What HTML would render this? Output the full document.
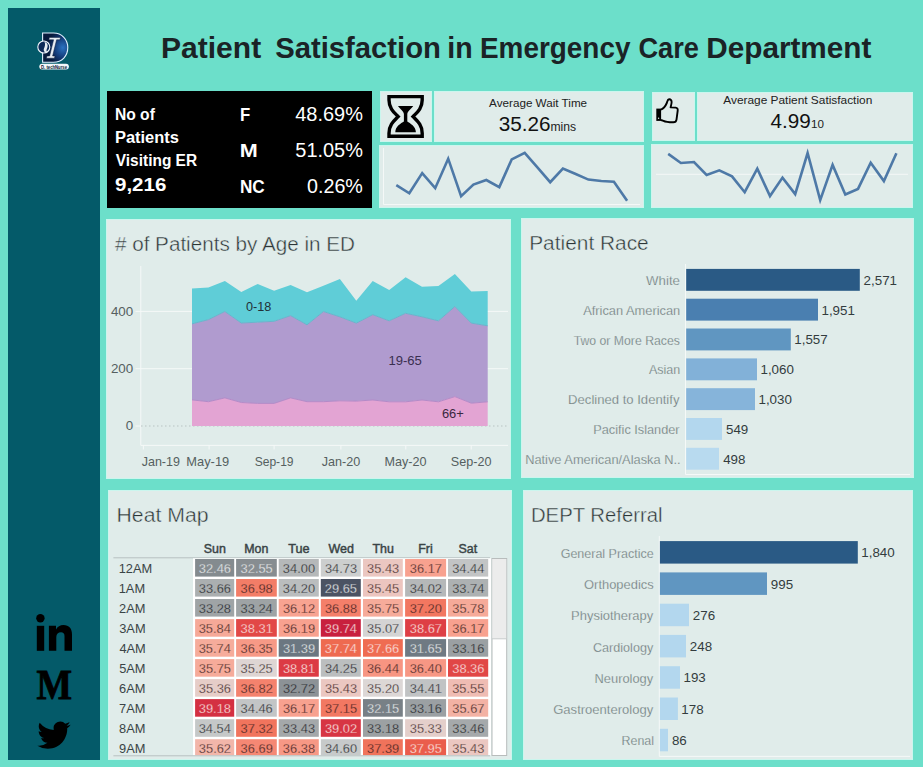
<!DOCTYPE html><html><head><meta charset="utf-8"><title>Patient Satisfaction in Emergency Care Department</title><style>
html,body{margin:0;padding:0;width:923px;height:767px;overflow:hidden;background:#6cdfca;font-family:"Liberation Sans",sans-serif;}
.pn{position:absolute;background:#e0ecea;box-shadow:inset 0 0 0 1px #cbf6ee;}
.sv{position:absolute;left:0;top:0;}
svg text{font-family:"Liberation Sans",sans-serif;}
</style></head><body>
<div style="position:absolute;left:8px;top:8px;width:92px;height:752px;background:#045a69"></div>
<div style="position:absolute;left:107px;top:91px;width:265px;height:117px;background:#000"></div>
<div class="pn" style="left:380px;top:91px;width:52px;height:51px;"></div>
<div class="pn" style="left:434px;top:91px;width:210px;height:51px;"></div>
<div class="pn" style="left:379px;top:145px;width:265px;height:63px;"></div>
<div class="pn" style="left:652px;top:92px;width:43px;height:49px;"></div>
<div class="pn" style="left:697px;top:92px;width:216px;height:49px;"></div>
<div class="pn" style="left:651px;top:144px;width:262px;height:64px;"></div>
<div class="pn" style="left:106px;top:219px;width:405px;height:260px;"></div>
<div class="pn" style="left:521px;top:218px;width:393px;height:260px;"></div>
<div class="pn" style="left:108px;top:490px;width:404px;height:270px;"></div>
<div class="pn" style="left:523px;top:490px;width:390px;height:270px;"></div>
<svg class="sv" width="923" height="767" viewBox="0 0 923 767">
<text x="160.99" y="57.7" font-size="29" fill="#1b2326" font-weight="bold" textLength="100.18" lengthAdjust="spacingAndGlyphs">Patient</text>
<text x="275.16" y="57.7" font-size="29" fill="#1b2326" font-weight="bold" textLength="165.76" lengthAdjust="spacingAndGlyphs">Satisfaction</text>
<text x="447.31" y="57.7" font-size="29" fill="#1b2326" font-weight="bold" textLength="25.36" lengthAdjust="spacingAndGlyphs">in</text>
<text x="480.03" y="57.7" font-size="29" fill="#1b2326" font-weight="bold" textLength="150.42" lengthAdjust="spacingAndGlyphs">Emergency</text>
<text x="638.38" y="57.7" font-size="29" fill="#1b2326" font-weight="bold" textLength="60.55" lengthAdjust="spacingAndGlyphs">Care</text>
<text x="706.31" y="57.7" font-size="29" fill="#1b2326" font-weight="bold" textLength="165.05" lengthAdjust="spacingAndGlyphs">Department</text>
<g>
<defs><radialGradient id="lg" cx="0.8" cy="0.5" r="0.6"><stop offset="0" stop-color="#2a72c0"/><stop offset="0.55" stop-color="#143c7a"/><stop offset="1" stop-color="#081a3c"/></radialGradient></defs>
<path d="M42.6 33 H53.5 C62 33 67.8 39.5 67.8 47.6 C67.8 56 62 62.3 53.5 62.3 H42.6 Z" fill="url(#lg)" stroke="#dff0ff" stroke-width="1.1"/>
<path d="M49.4 37.4 H60.6 L59.8 39.8 H56.6 L52.6 56 H55 L54.4 58.2 H46.4 L47 56 H49.6 L53.6 39.8 H48.8 Z" fill="#e8eef4" stroke="#0a1a3a" stroke-width="0.5"/>
<circle cx="43.8" cy="47" r="6" fill="#0d2a58" stroke="#eef4fa" stroke-width="1.1"/>
<path d="M44.5 42 C47.5 42.5 48.5 45.5 47 48.5 C46 50.5 46.5 52 48 52.5 C45 53 43 51 44 48.5 C45 46 45.5 44 44.5 42 Z" fill="#e6ecf2"/>
<rect x="39.3" y="63.7" width="29.6" height="5.8" rx="2.9" fill="#f4f8fb"/>
<text x="41" y="68.5" font-size="5" font-weight="bold" fill="#0a1a30" textLength="26" lengthAdjust="spacingAndGlyphs">D. techNurse</text>
</g>
<g fill="#000">
<circle cx="40.4" cy="618.3" r="4.2"/>
<rect x="36.8" y="625.8" width="7.4" height="25"/>
<path d="M48.9 625.8 H56 V629.5 C57.5 626.5 60 625 63.5 625 C69 625 72 628.5 72 634.5 V650.8 H64.5 V636 C64.5 633.5 63.2 632.3 61 632.3 C58.3 632.3 56.3 634 56.3 637 V650.8 H48.9 Z"/>
</g>
<text x="36.46" y="698.5" font-size="41.8" fill="#000" font-weight="bold" textLength="35.53" lengthAdjust="spacingAndGlyphs" stroke="#000" stroke-width="0.8" style="font-family:'Liberation Serif',serif">M</text>
<g transform="translate(37.4,718.4) scale(1.383,1.394)"><path fill="#000" d="M23.95 4.57a10 10 0 0 1-2.82.77 4.96 4.96 0 0 0 2.16-2.72c-.95.56-2 .96-3.12 1.19a4.92 4.92 0 0 0-8.38 4.48A13.94 13.94 0 0 1 1.64 3.16a4.82 4.82 0 0 0-.67 2.48c0 1.71.87 3.21 2.19 4.1a4.9 4.9 0 0 1-2.23-.61v.06c0 2.39 1.7 4.38 3.95 4.83a5 5 0 0 1-2.21.09 4.94 4.94 0 0 0 4.6 3.42A9.87 9.87 0 0 1 0 19.54a14 14 0 0 0 7.56 2.21c9.05 0 14-7.5 14-13.98 0-.21 0-.42-.02-.63A9.94 9.94 0 0 0 24 4.59z"/></g>
<text x="114.95" y="120" font-size="16" fill="#fff" font-weight="bold" textLength="39.91" lengthAdjust="spacingAndGlyphs">No of</text>
<text x="114.90" y="142.9" font-size="16" fill="#fff" font-weight="bold" textLength="64.08" lengthAdjust="spacingAndGlyphs">Patients</text>
<text x="115.79" y="165.8" font-size="16" fill="#fff" font-weight="bold" textLength="81.32" lengthAdjust="spacingAndGlyphs">Visiting ER</text>
<text x="114.99" y="191.4" font-size="19" fill="#fff" font-weight="bold" textLength="51.35" lengthAdjust="spacingAndGlyphs">9,216</text>
<text x="239.98" y="120.5" font-size="17.7" fill="#fff" font-weight="bold" textLength="10.23" lengthAdjust="spacingAndGlyphs">F</text>
<text x="239.66" y="157" font-size="17.7" fill="#fff" font-weight="bold" textLength="17.99" lengthAdjust="spacingAndGlyphs">M</text>
<text x="239.95" y="193.4" font-size="17.7" fill="#fff" font-weight="bold" textLength="24.82" lengthAdjust="spacingAndGlyphs">NC</text>
<text x="295.24" y="120.5" font-size="19.5" fill="#fff" font-weight="normal" textLength="67.67" lengthAdjust="spacingAndGlyphs">48.69%</text>
<text x="295.30" y="157" font-size="19.5" fill="#fff" font-weight="normal" textLength="67.61" lengthAdjust="spacingAndGlyphs">51.05%</text>
<text x="307.03" y="193.4" font-size="19.5" fill="#fff" font-weight="normal" textLength="55.87" lengthAdjust="spacingAndGlyphs">0.26%</text>
<g transform="translate(380,91)">
<path d="M9 5.6 H42.2 V9 C42.2 17.5 37 21.5 33 25.6 C37 29.7 42.2 33.7 42.2 42.2 V45.2 H9 V42.2 C9 33.7 14.2 29.7 18.2 25.6 C14.2 21.5 9 17.5 9 9 Z" fill="none" stroke="#000" stroke-width="3.4" stroke-linejoin="miter"/>
<path d="M18 15 H33.2 C31.5 18 27.4 20 27.3 23 V30.5 C30 32.2 35.9 35.5 35.9 41.2 H15.3 C15.3 35.5 21 32.2 23.9 30.5 V23 C23.8 20 19.7 18 18 15 Z" fill="#000"/>
</g>
<text x="489.08" y="106.9" font-size="10.8" fill="#222" font-weight="normal" textLength="98.03" lengthAdjust="spacingAndGlyphs">Average Wait Time</text>
<text x="498.71" y="130.7" font-size="19.9" fill="#111" font-weight="normal" textLength="51.80" lengthAdjust="spacingAndGlyphs">35.26</text>
<text x="550.39" y="130.7" font-size="13.6" fill="#222" font-weight="normal" textLength="25.65" lengthAdjust="spacingAndGlyphs">mins</text>
<g transform="translate(652,92)">
<rect x="4.3" y="16.6" width="4.8" height="12.3" fill="#000"/>
<circle cx="6.6" cy="26.3" r="0.7" fill="#e0ecea"/>
<path d="M9 17.6 C11.5 16.6 13.5 14 14.8 11 C15.5 9 15.6 7.4 17.1 7.3 C18.7 7.2 19.8 8.6 19.6 10.5 C19.4 12.5 18.8 14.2 18.6 15.4 L23.6 15.6 C25.3 15.7 25.9 17 25.7 18.6 L24.5 27.6 C24.2 29.5 22.6 30.4 21 30.3 C17 30.2 13.5 29.8 11.5 28.8 L9 28" fill="none" stroke="#000" stroke-width="1.9" stroke-linejoin="round"/>
</g>
<text x="723.28" y="104.2" font-size="11.2" fill="#222" font-weight="normal" textLength="148.99" lengthAdjust="spacingAndGlyphs">Average Patient Satisfaction</text>
<text x="770.53" y="127.8" font-size="20" fill="#111" font-weight="normal" textLength="40.25" lengthAdjust="spacingAndGlyphs">4.99</text>
<text x="811.11" y="127.8" font-size="10.8" fill="#222" font-weight="normal" textLength="12.94" lengthAdjust="spacingAndGlyphs">10</text>
<path d="M383.5 148 V204.5 H640" fill="none" stroke="#f4f8f7" stroke-width="1"/>
<line x1="656" y1="174.3" x2="908" y2="174.3" stroke="#f4f8f7" stroke-width="1"/>
<polyline points="396.3,185.1 409.3,193.3 422.2,173.1 435.2,188.2 448.2,158.7 461.1,196.2 473.4,184.6 486.3,180 499.3,187.1 511.7,159.4 524.7,152.9 537.4,167.4 550.2,182.2 562.9,168.5 575.7,174 588.4,179.6 601.3,181 613.9,181.7 627.1,200.8" fill="none" stroke="#4e79a7" stroke-width="2.6" stroke-linejoin="miter"/>
<polyline points="668.2,153.9 680.9,163 694,162 706.6,175 719.3,170.3 732,176.4 744.7,192.2 757.3,168.6 770,196.1 782.5,177.6 795.2,194.1 807.6,153 820.2,200.1 832.6,164.9 845.3,194.5 858,188.9 870.7,162.7 883.9,181.1 896.4,153.3" fill="none" stroke="#4e79a7" stroke-width="2.6" stroke-linejoin="miter"/>
<text x="114.91" y="251" font-size="19.4" fill="#2c3537" font-weight="normal" textLength="240.07" lengthAdjust="spacingAndGlyphs" stroke="#e0ecea" stroke-width="0.4"># of Patients by Age in ED</text>
<line x1="140.8" y1="266" x2="140.8" y2="445.4" stroke="#f5f9f8" stroke-width="1"/>
<line x1="140.8" y1="445.4" x2="508" y2="445.4" stroke="#f5f9f8" stroke-width="1"/>
<line x1="135.5" y1="311.4" x2="141" y2="311.4" stroke="#f5f9f8" stroke-width="1"/>
<line x1="135.5" y1="368.7" x2="141" y2="368.7" stroke="#f5f9f8" stroke-width="1"/>
<line x1="135.5" y1="426" x2="141" y2="426" stroke="#f5f9f8" stroke-width="1"/>
<line x1="141" y1="311.4" x2="508" y2="311.4" stroke="#f5f9f8" stroke-width="1"/>
<line x1="141" y1="368.7" x2="508" y2="368.7" stroke="#f5f9f8" stroke-width="1"/>
<line x1="141" y1="426" x2="508" y2="426" stroke="#b9c4c3" stroke-width="1" stroke-dasharray="1.5,2.5"/>
<line x1="143.4" y1="445.4" x2="143.4" y2="449.5" stroke="#f5f9f8" stroke-width="1"/>
<line x1="209.1" y1="445.4" x2="209.1" y2="449.5" stroke="#f5f9f8" stroke-width="1"/>
<line x1="274.1" y1="445.4" x2="274.1" y2="449.5" stroke="#f5f9f8" stroke-width="1"/>
<line x1="340.9" y1="445.4" x2="340.9" y2="449.5" stroke="#f5f9f8" stroke-width="1"/>
<line x1="405.8" y1="445.4" x2="405.8" y2="449.5" stroke="#f5f9f8" stroke-width="1"/>
<line x1="471.2" y1="445.4" x2="471.2" y2="449.5" stroke="#f5f9f8" stroke-width="1"/>
<text x="110.94" y="315.5" font-size="12.6" fill="#555f60" font-weight="normal" textLength="22.28" lengthAdjust="spacingAndGlyphs">400</text>
<text x="110.94" y="372.8" font-size="12.6" fill="#555f60" font-weight="normal" textLength="22.28" lengthAdjust="spacingAndGlyphs">200</text>
<text x="125.79" y="430.2" font-size="12.6" fill="#555f60" font-weight="normal" textLength="7.43" lengthAdjust="spacingAndGlyphs">0</text>
<text x="141.70" y="466" font-size="12.6" fill="#555f60" font-weight="normal" textLength="38.29" lengthAdjust="spacingAndGlyphs">Jan-19</text>
<text x="186.35" y="466" font-size="12.6" fill="#555f60" font-weight="normal" textLength="42.86" lengthAdjust="spacingAndGlyphs">May-19</text>
<text x="254.65" y="466" font-size="12.6" fill="#555f60" font-weight="normal" textLength="38.92" lengthAdjust="spacingAndGlyphs">Sep-19</text>
<text x="321.78" y="466" font-size="12.6" fill="#555f60" font-weight="normal" textLength="38.53" lengthAdjust="spacingAndGlyphs">Jan-20</text>
<text x="384.52" y="466" font-size="12.6" fill="#555f60" font-weight="normal" textLength="42.01" lengthAdjust="spacingAndGlyphs">May-20</text>
<text x="450.84" y="466" font-size="12.6" fill="#555f60" font-weight="normal" textLength="40.63" lengthAdjust="spacingAndGlyphs">Sep-20</text>
<path d="M192.0,288.4 L208.4,287.5 L224.9,281.0 L241.3,291.9 L257.7,284.0 L274.1,290.7 L290.6,284.9 L307.0,292.2 L323.4,285.8 L339.9,278.9 L356.3,300.8 L372.7,281.1 L389.2,290.0 L405.6,277.2 L422.0,286.8 L438.4,286.1 L454.9,273.9 L471.3,291.5 L487.7,291.1 L487.7,325.8 L471.3,323.1 L454.9,306.5 L438.4,320.8 L422.0,316.8 L405.6,313.3 L389.2,320.8 L372.7,314.7 L356.3,323.1 L339.9,316.8 L323.4,311.5 L307.0,324.8 L290.6,315.6 L274.1,321.3 L257.7,322.2 L241.3,323.0 L224.9,311.5 L208.4,319.6 L192.0,323.9Z" fill="#5fcdd7"/>
<path d="M192.0,323.9 L208.4,319.6 L224.9,311.5 L241.3,323.0 L257.7,322.2 L274.1,321.3 L290.6,315.6 L307.0,324.8 L323.4,311.5 L339.9,316.8 L356.3,323.1 L372.7,314.7 L389.2,320.8 L405.6,313.3 L422.0,316.8 L438.4,320.8 L454.9,306.5 L471.3,323.1 L487.7,325.8 L487.7,401.8 L471.3,403.2 L454.9,396.6 L438.4,401.8 L422.0,400.0 L405.6,401.8 L389.2,401.8 L372.7,400.0 L356.3,401.1 L339.9,400.8 L323.4,401.7 L307.0,401.7 L290.6,397.9 L274.1,403.4 L257.7,403.4 L241.3,402.5 L224.9,397.9 L208.4,401.7 L192.0,399.9Z" fill="#b09bcf"/>
<path d="M192.0,399.9 L208.4,401.7 L224.9,397.9 L241.3,402.5 L257.7,403.4 L274.1,403.4 L290.6,397.9 L307.0,401.7 L323.4,401.7 L339.9,400.8 L356.3,401.1 L372.7,400.0 L389.2,401.8 L405.6,401.8 L422.0,400.0 L438.4,401.8 L454.9,396.6 L471.3,403.2 L487.7,401.8 L487.7,426.0 L471.3,426.0 L454.9,426.0 L438.4,426.0 L422.0,426.0 L405.6,426.0 L389.2,426.0 L372.7,426.0 L356.3,426.0 L339.9,426.0 L323.4,426.0 L307.0,426.0 L290.6,426.0 L274.1,426.0 L257.7,426.0 L241.3,426.0 L224.9,426.0 L208.4,426.0 L192.0,426.0Z" fill="#e3a4d3"/>
<polyline points="192.0,323.9 208.43,319.6 224.86,311.5 241.29,323 257.72,322.2 274.15,321.3 290.58,315.6 307.01,324.8 323.44,311.5 339.87,316.8 356.3,323.1 372.73,314.7 389.15999999999997,320.8 405.59000000000003,313.3 422.02,316.8 438.45,320.8 454.88,306.5 471.31,323.1 487.74,325.8" fill="none" stroke="#68b4cc" stroke-width="1"/>
<polyline points="192.0,399.9 208.43,401.7 224.86,397.9 241.29,402.5 257.72,403.4 274.15,403.4 290.58,397.9 307.01,401.7 323.44,401.7 339.87,400.8 356.3,401.1 372.73,400 389.15999999999997,401.8 405.59000000000003,401.8 422.02,400 438.45,401.8 454.88,396.6 471.31,403.2 487.74,401.8" fill="none" stroke="#b48ac8" stroke-width="1"/>
<text x="246.01" y="311" font-size="12.4" fill="#223038" font-weight="normal" textLength="25.34" lengthAdjust="spacingAndGlyphs">0-18</text>
<text x="388.40" y="364.9" font-size="12.4" fill="#3a2f50" font-weight="normal" textLength="33.45" lengthAdjust="spacingAndGlyphs">19-65</text>
<text x="441.94" y="417.5" font-size="12.4" fill="#3a2840" font-weight="normal" textLength="21.89" lengthAdjust="spacingAndGlyphs">66+</text>
<text x="529.19" y="249.9" font-size="19.6" fill="#2c3537" font-weight="normal" textLength="119.54" lengthAdjust="spacingAndGlyphs" stroke="#e0ecea" stroke-width="0.4">Patient Race</text>
<line x1="685.5" y1="264" x2="685.5" y2="474.5" stroke="#f5f9f8" stroke-width="1"/>
<line x1="685.5" y1="474.5" x2="910" y2="474.5" stroke="#f5f9f8" stroke-width="1"/>
<rect x="686.2" y="268.9" width="173.6" height="21.9" fill="#2a5a85"/>
<text x="646.14" y="284.9" font-size="12.6" fill="#667374" font-weight="normal" textLength="33.85" lengthAdjust="spacingAndGlyphs" stroke="#e0ecea" stroke-width="0.25">White</text>
<text x="863.63" y="284.79999999999995" font-size="12.6" fill="#333c3e" font-weight="normal" textLength="33.42" lengthAdjust="spacingAndGlyphs">2,571</text>
<rect x="686.2" y="298.7" width="131.8" height="21.9" fill="#4a7fb0"/>
<text x="583.18" y="314.71999999999997" font-size="12.6" fill="#667374" font-weight="normal" textLength="97.05" lengthAdjust="spacingAndGlyphs" stroke="#e0ecea" stroke-width="0.25">African American</text>
<text x="821.48" y="314.61999999999995" font-size="12.6" fill="#333c3e" font-weight="normal" textLength="33.42" lengthAdjust="spacingAndGlyphs">1,951</text>
<rect x="686.2" y="328.5" width="104.6" height="21.9" fill="#6096c1"/>
<text x="573.73" y="344.53999999999996" font-size="12.6" fill="#667374" font-weight="normal" textLength="106.11" lengthAdjust="spacingAndGlyphs" stroke="#e0ecea" stroke-width="0.25">Two or More Races</text>
<text x="794.28" y="344.43999999999994" font-size="12.6" fill="#333c3e" font-weight="normal" textLength="33.42" lengthAdjust="spacingAndGlyphs">1,557</text>
<rect x="686.2" y="358.4" width="70.8" height="21.9" fill="#82b1d8"/>
<text x="648.98" y="374.36" font-size="12.6" fill="#667374" font-weight="normal" textLength="31.24" lengthAdjust="spacingAndGlyphs" stroke="#e0ecea" stroke-width="0.25">Asian</text>
<text x="760.48" y="374.26" font-size="12.6" fill="#333c3e" font-weight="normal" textLength="33.42" lengthAdjust="spacingAndGlyphs">1,060</text>
<rect x="686.2" y="388.2" width="68.8" height="21.9" fill="#86b4da"/>
<text x="568.13" y="404.17999999999995" font-size="12.6" fill="#667374" font-weight="normal" textLength="111.30" lengthAdjust="spacingAndGlyphs" stroke="#e0ecea" stroke-width="0.25">Declined to Identify</text>
<text x="758.48" y="404.0799999999999" font-size="12.6" fill="#333c3e" font-weight="normal" textLength="33.42" lengthAdjust="spacingAndGlyphs">1,030</text>
<rect x="686.2" y="418.0" width="35.8" height="21.9" fill="#b3d7ee"/>
<text x="593.26" y="434.0" font-size="12.6" fill="#667374" font-weight="normal" textLength="86.36" lengthAdjust="spacingAndGlyphs" stroke="#e0ecea" stroke-width="0.25">Pacific Islander</text>
<text x="725.97" y="433.9" font-size="12.6" fill="#333c3e" font-weight="normal" textLength="22.28" lengthAdjust="spacingAndGlyphs">549</text>
<rect x="686.2" y="447.8" width="32.8" height="21.9" fill="#b8daef"/>
<text x="525.15" y="463.82" font-size="12.6" fill="#667374" font-weight="normal" textLength="155.41" lengthAdjust="spacingAndGlyphs" stroke="#e0ecea" stroke-width="0.25">Native American/Alaska N..</text>
<text x="723.19" y="463.71999999999997" font-size="12.6" fill="#333c3e" font-weight="normal" textLength="22.28" lengthAdjust="spacingAndGlyphs">498</text>
<text x="530.94" y="522.1" font-size="19.6" fill="#2c3537" font-weight="normal" textLength="131.61" lengthAdjust="spacingAndGlyphs" stroke="#e0ecea" stroke-width="0.4">DEPT Referral</text>
<line x1="659.3" y1="536" x2="659.3" y2="756.4" stroke="#f5f9f8" stroke-width="1"/>
<line x1="659.3" y1="756.4" x2="910" y2="756.4" stroke="#f5f9f8" stroke-width="1"/>
<rect x="659.9" y="541.1" width="197.9" height="22.5" fill="#2a5a85"/>
<text x="560.67" y="557.7" font-size="12.6" fill="#667374" font-weight="normal" textLength="93.08" lengthAdjust="spacingAndGlyphs" stroke="#e0ecea" stroke-width="0.25">General Practice</text>
<text x="861.28" y="557.3000000000001" font-size="12.6" fill="#333c3e" font-weight="normal" textLength="33.42" lengthAdjust="spacingAndGlyphs">1,840</text>
<rect x="659.9" y="572.4" width="107.1" height="22.5" fill="#6096c1"/>
<text x="584.09" y="588.98" font-size="12.6" fill="#667374" font-weight="normal" textLength="69.58" lengthAdjust="spacingAndGlyphs" stroke="#e0ecea" stroke-width="0.25">Orthopedics</text>
<text x="770.87" y="588.58" font-size="12.6" fill="#333c3e" font-weight="normal" textLength="22.28" lengthAdjust="spacingAndGlyphs">995</text>
<rect x="659.9" y="603.7" width="29.1" height="22.5" fill="#b3d7ee"/>
<text x="571.14" y="620.2600000000001" font-size="12.6" fill="#667374" font-weight="normal" textLength="82.09" lengthAdjust="spacingAndGlyphs" stroke="#e0ecea" stroke-width="0.25">Physiotherapy</text>
<text x="692.83" y="619.8600000000001" font-size="12.6" fill="#333c3e" font-weight="normal" textLength="22.28" lengthAdjust="spacingAndGlyphs">276</text>
<rect x="659.9" y="634.9" width="26.1" height="22.5" fill="#b3d7ee"/>
<text x="592.96" y="651.5400000000001" font-size="12.6" fill="#667374" font-weight="normal" textLength="60.26" lengthAdjust="spacingAndGlyphs" stroke="#e0ecea" stroke-width="0.25">Cardiology</text>
<text x="689.83" y="651.1400000000001" font-size="12.6" fill="#333c3e" font-weight="normal" textLength="22.28" lengthAdjust="spacingAndGlyphs">248</text>
<rect x="659.9" y="666.2" width="20.1" height="22.5" fill="#b3d7ee"/>
<text x="594.54" y="682.82" font-size="12.6" fill="#667374" font-weight="normal" textLength="58.68" lengthAdjust="spacingAndGlyphs" stroke="#e0ecea" stroke-width="0.25">Neurology</text>
<text x="683.48" y="682.4200000000001" font-size="12.6" fill="#333c3e" font-weight="normal" textLength="22.28" lengthAdjust="spacingAndGlyphs">193</text>
<rect x="659.9" y="697.5" width="18.0" height="22.5" fill="#b3d7ee"/>
<text x="553.24" y="714.1" font-size="12.6" fill="#667374" font-weight="normal" textLength="99.98" lengthAdjust="spacingAndGlyphs" stroke="#e0ecea" stroke-width="0.25">Gastroenterology</text>
<text x="681.38" y="713.7" font-size="12.6" fill="#333c3e" font-weight="normal" textLength="22.28" lengthAdjust="spacingAndGlyphs">178</text>
<rect x="659.9" y="728.8" width="8.1" height="22.5" fill="#b3d7ee"/>
<text x="621.58" y="745.38" font-size="12.6" fill="#667374" font-weight="normal" textLength="32.45" lengthAdjust="spacingAndGlyphs" stroke="#e0ecea" stroke-width="0.25">Renal</text>
<text x="671.92" y="744.98" font-size="12.6" fill="#333c3e" font-weight="normal" textLength="14.86" lengthAdjust="spacingAndGlyphs">86</text>
<text x="116.56" y="522.1" font-size="19.6" fill="#2c3537" font-weight="normal" textLength="92.03" lengthAdjust="spacingAndGlyphs" stroke="#e0ecea" stroke-width="0.4">Heat Map</text>
<defs><clipPath id="hc"><rect x="108" y="558" width="404" height="197.3"/></clipPath></defs>
<line x1="113.4" y1="557.8" x2="490" y2="557.8" stroke="#b7c1c0" stroke-width="1"/>
<g clip-path="url(#hc)">
<rect x="193" y="558.3" width="298" height="200" fill="#ffffff"/>
<rect x="195.1" y="559.0" width="39.1" height="17.6" fill="#848b8f"/>
<text stroke="#848b8f" stroke-width="0.3" x="198.79" y="572.7" font-size="12.8" fill="#f4f6f7" font-weight="normal" textLength="32.19" lengthAdjust="spacingAndGlyphs">32.46</text>
<rect x="236.1" y="559.0" width="40.7" height="17.6" fill="#878d91"/>
<text stroke="#878d91" stroke-width="0.3" x="240.58" y="572.7" font-size="12.8" fill="#f4f6f7" font-weight="normal" textLength="32.19" lengthAdjust="spacingAndGlyphs">32.55</text>
<rect x="278.7" y="559.0" width="40.1" height="17.6" fill="#b5b8b9"/>
<text stroke="#b5b8b9" stroke-width="0.3" x="282.86" y="572.7" font-size="12.8" fill="#1c2124" font-weight="normal" textLength="32.19" lengthAdjust="spacingAndGlyphs">34.00</text>
<rect x="320.8" y="559.0" width="40.0" height="17.6" fill="#cccece"/>
<text stroke="#cccece" stroke-width="0.3" x="324.94" y="572.7" font-size="12.8" fill="#1c2124" font-weight="normal" textLength="32.19" lengthAdjust="spacingAndGlyphs">34.73</text>
<rect x="363.0" y="559.0" width="39.8" height="17.6" fill="#ebc7c1"/>
<text stroke="#ebc7c1" stroke-width="0.3" x="367.04" y="572.7" font-size="12.8" fill="#2e1c1c" font-weight="normal" textLength="32.19" lengthAdjust="spacingAndGlyphs">35.43</text>
<rect x="405.1" y="559.0" width="41.0" height="17.6" fill="#f8a18f"/>
<text stroke="#f8a18f" stroke-width="0.3" x="409.78" y="572.7" font-size="12.8" fill="#2e1c1c" font-weight="normal" textLength="32.19" lengthAdjust="spacingAndGlyphs">36.17</text>
<rect x="448.0" y="559.0" width="40.2" height="17.6" fill="#c2c4c5"/>
<text stroke="#c2c4c5" stroke-width="0.3" x="452.15" y="572.7" font-size="12.8" fill="#1c2124" font-weight="normal" textLength="32.19" lengthAdjust="spacingAndGlyphs">34.44</text>
<text x="118.72" y="572.7" font-size="12.7" fill="#3a4446" font-weight="normal" textLength="33.51" lengthAdjust="spacingAndGlyphs">12AM</text>
<rect x="195.1" y="579.0" width="39.1" height="17.6" fill="#abafb0"/>
<text stroke="#abafb0" stroke-width="0.3" x="198.79" y="592.72" font-size="12.8" fill="#1c2124" font-weight="normal" textLength="32.19" lengthAdjust="spacingAndGlyphs">33.66</text>
<rect x="236.1" y="579.0" width="40.7" height="17.6" fill="#f37d67"/>
<text stroke="#f37d67" stroke-width="0.3" x="240.59" y="592.72" font-size="12.8" fill="#2e1c1c" font-weight="normal" textLength="32.19" lengthAdjust="spacingAndGlyphs">36.98</text>
<rect x="278.7" y="579.0" width="40.1" height="17.6" fill="#babdbe"/>
<text stroke="#babdbe" stroke-width="0.3" x="282.86" y="592.72" font-size="12.8" fill="#1c2124" font-weight="normal" textLength="32.19" lengthAdjust="spacingAndGlyphs">34.20</text>
<rect x="320.8" y="579.0" width="40.0" height="17.6" fill="#4b5363"/>
<text stroke="#4b5363" stroke-width="0.3" x="324.85" y="592.72" font-size="12.8" fill="#f4f6f7" font-weight="normal" textLength="32.19" lengthAdjust="spacingAndGlyphs">29.65</text>
<rect x="363.0" y="579.0" width="39.8" height="17.6" fill="#ecc5bf"/>
<text stroke="#ecc5bf" stroke-width="0.3" x="367.03" y="592.72" font-size="12.8" fill="#2e1c1c" font-weight="normal" textLength="32.19" lengthAdjust="spacingAndGlyphs">35.45</text>
<rect x="405.1" y="579.0" width="41.0" height="17.6" fill="#b5b8b9"/>
<text stroke="#b5b8b9" stroke-width="0.3" x="409.78" y="592.72" font-size="12.8" fill="#1c2124" font-weight="normal" textLength="32.19" lengthAdjust="spacingAndGlyphs">34.02</text>
<rect x="448.0" y="579.0" width="40.2" height="17.6" fill="#adb1b2"/>
<text stroke="#adb1b2" stroke-width="0.3" x="452.15" y="592.72" font-size="12.8" fill="#1c2124" font-weight="normal" textLength="32.19" lengthAdjust="spacingAndGlyphs">33.74</text>
<text x="118.72" y="592.72" font-size="12.7" fill="#3a4446" font-weight="normal" textLength="26.37" lengthAdjust="spacingAndGlyphs">1AM</text>
<rect x="195.1" y="599.0" width="39.1" height="17.6" fill="#9fa4a6"/>
<text stroke="#9fa4a6" stroke-width="0.3" x="198.79" y="612.74" font-size="12.8" fill="#1c2124" font-weight="normal" textLength="32.19" lengthAdjust="spacingAndGlyphs">33.28</text>
<rect x="236.1" y="599.0" width="40.7" height="17.6" fill="#9ea3a5"/>
<text stroke="#9ea3a5" stroke-width="0.3" x="240.50" y="612.74" font-size="12.8" fill="#1c2124" font-weight="normal" textLength="32.19" lengthAdjust="spacingAndGlyphs">33.24</text>
<rect x="278.7" y="599.0" width="40.1" height="17.6" fill="#f8a391"/>
<text stroke="#f8a391" stroke-width="0.3" x="282.93" y="612.74" font-size="12.8" fill="#2e1c1c" font-weight="normal" textLength="32.19" lengthAdjust="spacingAndGlyphs">36.12</text>
<rect x="320.8" y="599.0" width="40.0" height="17.6" fill="#f47f6a"/>
<text stroke="#f47f6a" stroke-width="0.3" x="324.94" y="612.74" font-size="12.8" fill="#2e1c1c" font-weight="normal" textLength="32.19" lengthAdjust="spacingAndGlyphs">36.88</text>
<rect x="363.0" y="599.0" width="39.8" height="17.6" fill="#f6ab9a"/>
<text stroke="#f6ab9a" stroke-width="0.3" x="367.03" y="612.74" font-size="12.8" fill="#2e1c1c" font-weight="normal" textLength="32.19" lengthAdjust="spacingAndGlyphs">35.75</text>
<rect x="405.1" y="599.0" width="41.0" height="17.6" fill="#f27760"/>
<text stroke="#f27760" stroke-width="0.3" x="409.71" y="612.74" font-size="12.8" fill="#2e1c1c" font-weight="normal" textLength="32.19" lengthAdjust="spacingAndGlyphs">37.20</text>
<rect x="448.0" y="599.0" width="40.2" height="17.6" fill="#f6aa99"/>
<text stroke="#f6aa99" stroke-width="0.3" x="452.24" y="612.74" font-size="12.8" fill="#2e1c1c" font-weight="normal" textLength="32.19" lengthAdjust="spacingAndGlyphs">35.78</text>
<text x="119.05" y="612.74" font-size="12.7" fill="#3a4446" font-weight="normal" textLength="26.37" lengthAdjust="spacingAndGlyphs">2AM</text>
<rect x="195.1" y="619.1" width="39.1" height="17.6" fill="#f6a998"/>
<text stroke="#f6a998" stroke-width="0.3" x="198.70" y="632.76" font-size="12.8" fill="#2e1c1c" font-weight="normal" textLength="32.19" lengthAdjust="spacingAndGlyphs">35.84</text>
<rect x="236.1" y="619.1" width="40.7" height="17.6" fill="#e24846"/>
<text stroke="#e24846" stroke-width="0.3" x="240.62" y="632.76" font-size="12.8" fill="#fdf0f0" font-weight="normal" textLength="32.19" lengthAdjust="spacingAndGlyphs">38.31</text>
<rect x="278.7" y="619.1" width="40.1" height="17.6" fill="#f8a18f"/>
<text stroke="#f8a18f" stroke-width="0.3" x="282.91" y="632.76" font-size="12.8" fill="#2e1c1c" font-weight="normal" textLength="32.19" lengthAdjust="spacingAndGlyphs">36.19</text>
<rect x="320.8" y="619.1" width="40.0" height="17.6" fill="#c8203e"/>
<text stroke="#c8203e" stroke-width="0.3" x="324.85" y="632.76" font-size="12.8" fill="#fdf0f0" font-weight="normal" textLength="32.19" lengthAdjust="spacingAndGlyphs">39.74</text>
<rect x="363.0" y="619.1" width="39.8" height="17.6" fill="#d4d4d4"/>
<text stroke="#d4d4d4" stroke-width="0.3" x="367.08" y="632.76" font-size="12.8" fill="#1c2124" font-weight="normal" textLength="32.19" lengthAdjust="spacingAndGlyphs">35.07</text>
<rect x="405.1" y="619.1" width="41.0" height="17.6" fill="#de3f45"/>
<text stroke="#de3f45" stroke-width="0.3" x="409.78" y="632.76" font-size="12.8" fill="#fdf0f0" font-weight="normal" textLength="32.19" lengthAdjust="spacingAndGlyphs">38.67</text>
<rect x="448.0" y="619.1" width="40.2" height="17.6" fill="#f8a18f"/>
<text stroke="#f8a18f" stroke-width="0.3" x="452.28" y="632.76" font-size="12.8" fill="#2e1c1c" font-weight="normal" textLength="32.19" lengthAdjust="spacingAndGlyphs">36.17</text>
<text x="119.21" y="632.76" font-size="12.7" fill="#3a4446" font-weight="normal" textLength="26.37" lengthAdjust="spacingAndGlyphs">3AM</text>
<rect x="195.1" y="639.1" width="39.1" height="17.6" fill="#f6ac9b"/>
<text stroke="#f6ac9b" stroke-width="0.3" x="198.70" y="652.7800000000001" font-size="12.8" fill="#2e1c1c" font-weight="normal" textLength="32.19" lengthAdjust="spacingAndGlyphs">35.74</text>
<rect x="236.1" y="639.1" width="40.7" height="17.6" fill="#f79986"/>
<text stroke="#f79986" stroke-width="0.3" x="240.58" y="652.7800000000001" font-size="12.8" fill="#2e1c1c" font-weight="normal" textLength="32.19" lengthAdjust="spacingAndGlyphs">36.35</text>
<rect x="278.7" y="639.1" width="40.1" height="17.6" fill="#6b7781"/>
<text stroke="#6b7781" stroke-width="0.3" x="282.91" y="652.7800000000001" font-size="12.8" fill="#f4f6f7" font-weight="normal" textLength="32.19" lengthAdjust="spacingAndGlyphs">31.39</text>
<rect x="320.8" y="639.1" width="40.0" height="17.6" fill="#ee6a50"/>
<text stroke="#ee6a50" stroke-width="0.3" x="324.85" y="652.7800000000001" font-size="12.8" fill="#fdf0f0" font-weight="normal" textLength="32.19" lengthAdjust="spacingAndGlyphs">37.74</text>
<rect x="363.0" y="639.1" width="39.8" height="17.6" fill="#ef6c52"/>
<text stroke="#ef6c52" stroke-width="0.3" x="367.04" y="652.7800000000001" font-size="12.8" fill="#fdf0f0" font-weight="normal" textLength="32.19" lengthAdjust="spacingAndGlyphs">37.66</text>
<rect x="405.1" y="639.1" width="41.0" height="17.6" fill="#6f7a83"/>
<text stroke="#6f7a83" stroke-width="0.3" x="409.73" y="652.7800000000001" font-size="12.8" fill="#f4f6f7" font-weight="normal" textLength="32.19" lengthAdjust="spacingAndGlyphs">31.65</text>
<rect x="448.0" y="639.1" width="40.2" height="17.6" fill="#9ba0a3"/>
<text stroke="#9ba0a3" stroke-width="0.3" x="452.24" y="652.7800000000001" font-size="12.8" fill="#1c2124" font-weight="normal" textLength="32.19" lengthAdjust="spacingAndGlyphs">33.16</text>
<text x="119.41" y="652.7800000000001" font-size="12.7" fill="#3a4446" font-weight="normal" textLength="26.37" lengthAdjust="spacingAndGlyphs">4AM</text>
<rect x="195.1" y="659.1" width="39.1" height="17.6" fill="#f6ab9a"/>
<text stroke="#f6ab9a" stroke-width="0.3" x="198.78" y="672.8000000000001" font-size="12.8" fill="#2e1c1c" font-weight="normal" textLength="32.19" lengthAdjust="spacingAndGlyphs">35.75</text>
<rect x="236.1" y="659.1" width="40.7" height="17.6" fill="#ded5d3"/>
<text stroke="#ded5d3" stroke-width="0.3" x="240.58" y="672.8000000000001" font-size="12.8" fill="#2e1c1c" font-weight="normal" textLength="32.19" lengthAdjust="spacingAndGlyphs">35.25</text>
<rect x="278.7" y="659.1" width="40.1" height="17.6" fill="#dc3b44"/>
<text stroke="#dc3b44" stroke-width="0.3" x="282.92" y="672.8000000000001" font-size="12.8" fill="#fdf0f0" font-weight="normal" textLength="32.19" lengthAdjust="spacingAndGlyphs">38.81</text>
<rect x="320.8" y="659.1" width="40.0" height="17.6" fill="#bbbebf"/>
<text stroke="#bbbebf" stroke-width="0.3" x="324.93" y="672.8000000000001" font-size="12.8" fill="#1c2124" font-weight="normal" textLength="32.19" lengthAdjust="spacingAndGlyphs">34.25</text>
<rect x="363.0" y="659.1" width="39.8" height="17.6" fill="#f79582"/>
<text stroke="#f79582" stroke-width="0.3" x="366.95" y="672.8000000000001" font-size="12.8" fill="#2e1c1c" font-weight="normal" textLength="32.19" lengthAdjust="spacingAndGlyphs">36.44</text>
<rect x="405.1" y="659.1" width="41.0" height="17.6" fill="#f79784"/>
<text stroke="#f79784" stroke-width="0.3" x="409.71" y="672.8000000000001" font-size="12.8" fill="#2e1c1c" font-weight="normal" textLength="32.19" lengthAdjust="spacingAndGlyphs">36.40</text>
<rect x="448.0" y="659.1" width="40.2" height="17.6" fill="#e14746"/>
<text stroke="#e14746" stroke-width="0.3" x="452.24" y="672.8000000000001" font-size="12.8" fill="#fdf0f0" font-weight="normal" textLength="32.19" lengthAdjust="spacingAndGlyphs">38.36</text>
<text x="119.19" y="672.8000000000001" font-size="12.7" fill="#3a4446" font-weight="normal" textLength="26.37" lengthAdjust="spacingAndGlyphs">5AM</text>
<rect x="195.1" y="679.1" width="39.1" height="17.6" fill="#e6cdc8"/>
<text stroke="#e6cdc8" stroke-width="0.3" x="198.79" y="692.82" font-size="12.8" fill="#2e1c1c" font-weight="normal" textLength="32.19" lengthAdjust="spacingAndGlyphs">35.36</text>
<rect x="236.1" y="679.1" width="40.7" height="17.6" fill="#f4826d"/>
<text stroke="#f4826d" stroke-width="0.3" x="240.63" y="692.82" font-size="12.8" fill="#2e1c1c" font-weight="normal" textLength="32.19" lengthAdjust="spacingAndGlyphs">36.82</text>
<rect x="278.7" y="679.1" width="40.1" height="17.6" fill="#8c9296"/>
<text stroke="#8c9296" stroke-width="0.3" x="282.93" y="692.82" font-size="12.8" fill="#1c2124" font-weight="normal" textLength="32.19" lengthAdjust="spacingAndGlyphs">32.72</text>
<rect x="320.8" y="679.1" width="40.0" height="17.6" fill="#ebc7c1"/>
<text stroke="#ebc7c1" stroke-width="0.3" x="324.94" y="692.82" font-size="12.8" fill="#2e1c1c" font-weight="normal" textLength="32.19" lengthAdjust="spacingAndGlyphs">35.43</text>
<rect x="363.0" y="679.1" width="39.8" height="17.6" fill="#dcd7d6"/>
<text stroke="#dcd7d6" stroke-width="0.3" x="367.01" y="692.82" font-size="12.8" fill="#2e1c1c" font-weight="normal" textLength="32.19" lengthAdjust="spacingAndGlyphs">35.20</text>
<rect x="405.1" y="679.1" width="41.0" height="17.6" fill="#c1c3c4"/>
<text stroke="#c1c3c4" stroke-width="0.3" x="409.77" y="692.82" font-size="12.8" fill="#1c2124" font-weight="normal" textLength="32.19" lengthAdjust="spacingAndGlyphs">34.41</text>
<rect x="448.0" y="679.1" width="40.2" height="17.6" fill="#efbcb3"/>
<text stroke="#efbcb3" stroke-width="0.3" x="452.23" y="692.82" font-size="12.8" fill="#2e1c1c" font-weight="normal" textLength="32.19" lengthAdjust="spacingAndGlyphs">35.55</text>
<text x="119.05" y="692.82" font-size="12.7" fill="#3a4446" font-weight="normal" textLength="26.37" lengthAdjust="spacingAndGlyphs">6AM</text>
<rect x="195.1" y="699.1" width="39.1" height="17.6" fill="#d43042"/>
<text stroke="#d43042" stroke-width="0.3" x="198.79" y="712.84" font-size="12.8" fill="#fdf0f0" font-weight="normal" textLength="32.19" lengthAdjust="spacingAndGlyphs">39.18</text>
<rect x="236.1" y="699.1" width="40.7" height="17.6" fill="#c2c5c6"/>
<text stroke="#c2c5c6" stroke-width="0.3" x="240.59" y="712.84" font-size="12.8" fill="#1c2124" font-weight="normal" textLength="32.19" lengthAdjust="spacingAndGlyphs">34.46</text>
<rect x="278.7" y="699.1" width="40.1" height="17.6" fill="#f8a18f"/>
<text stroke="#f8a18f" stroke-width="0.3" x="282.93" y="712.84" font-size="12.8" fill="#2e1c1c" font-weight="normal" textLength="32.19" lengthAdjust="spacingAndGlyphs">36.17</text>
<rect x="320.8" y="699.1" width="40.0" height="17.6" fill="#f27862"/>
<text stroke="#f27862" stroke-width="0.3" x="324.93" y="712.84" font-size="12.8" fill="#2e1c1c" font-weight="normal" textLength="32.19" lengthAdjust="spacingAndGlyphs">37.15</text>
<rect x="363.0" y="699.1" width="39.8" height="17.6" fill="#788086"/>
<text stroke="#788086" stroke-width="0.3" x="367.03" y="712.84" font-size="12.8" fill="#f4f6f7" font-weight="normal" textLength="32.19" lengthAdjust="spacingAndGlyphs">32.15</text>
<rect x="405.1" y="699.1" width="41.0" height="17.6" fill="#9ba0a3"/>
<text stroke="#9ba0a3" stroke-width="0.3" x="409.74" y="712.84" font-size="12.8" fill="#1c2124" font-weight="normal" textLength="32.19" lengthAdjust="spacingAndGlyphs">33.16</text>
<rect x="448.0" y="699.1" width="40.2" height="17.6" fill="#f3b2a4"/>
<text stroke="#f3b2a4" stroke-width="0.3" x="452.28" y="712.84" font-size="12.8" fill="#2e1c1c" font-weight="normal" textLength="32.19" lengthAdjust="spacingAndGlyphs">35.67</text>
<text x="119.04" y="712.84" font-size="12.7" fill="#3a4446" font-weight="normal" textLength="26.37" lengthAdjust="spacingAndGlyphs">7AM</text>
<rect x="195.1" y="719.2" width="39.1" height="17.6" fill="#c5c8c8"/>
<text stroke="#c5c8c8" stroke-width="0.3" x="198.70" y="732.86" font-size="12.8" fill="#1c2124" font-weight="normal" textLength="32.19" lengthAdjust="spacingAndGlyphs">34.54</text>
<rect x="236.1" y="719.2" width="40.7" height="17.6" fill="#f1745d"/>
<text stroke="#f1745d" stroke-width="0.3" x="240.63" y="732.86" font-size="12.8" fill="#2e1c1c" font-weight="normal" textLength="32.19" lengthAdjust="spacingAndGlyphs">37.32</text>
<rect x="278.7" y="719.2" width="40.1" height="17.6" fill="#a4a8aa"/>
<text stroke="#a4a8aa" stroke-width="0.3" x="282.89" y="732.86" font-size="12.8" fill="#1c2124" font-weight="normal" textLength="32.19" lengthAdjust="spacingAndGlyphs">33.43</text>
<rect x="320.8" y="719.2" width="40.0" height="17.6" fill="#d73543"/>
<text stroke="#d73543" stroke-width="0.3" x="324.98" y="732.86" font-size="12.8" fill="#fdf0f0" font-weight="normal" textLength="32.19" lengthAdjust="spacingAndGlyphs">39.02</text>
<rect x="363.0" y="719.2" width="39.8" height="17.6" fill="#9ca1a3"/>
<text stroke="#9ca1a3" stroke-width="0.3" x="367.04" y="732.86" font-size="12.8" fill="#1c2124" font-weight="normal" textLength="32.19" lengthAdjust="spacingAndGlyphs">33.18</text>
<rect x="405.1" y="719.2" width="41.0" height="17.6" fill="#e4cfcb"/>
<text stroke="#e4cfcb" stroke-width="0.3" x="409.74" y="732.86" font-size="12.8" fill="#2e1c1c" font-weight="normal" textLength="32.19" lengthAdjust="spacingAndGlyphs">35.33</text>
<rect x="448.0" y="719.2" width="40.2" height="17.6" fill="#a5a9ab"/>
<text stroke="#a5a9ab" stroke-width="0.3" x="452.24" y="732.86" font-size="12.8" fill="#1c2124" font-weight="normal" textLength="32.19" lengthAdjust="spacingAndGlyphs">33.46</text>
<text x="119.14" y="732.86" font-size="12.7" fill="#3a4446" font-weight="normal" textLength="26.37" lengthAdjust="spacingAndGlyphs">8AM</text>
<rect x="195.1" y="739.2" width="39.1" height="17.6" fill="#f2b6aa"/>
<text stroke="#f2b6aa" stroke-width="0.3" x="198.83" y="752.8800000000001" font-size="12.8" fill="#2e1c1c" font-weight="normal" textLength="32.19" lengthAdjust="spacingAndGlyphs">35.62</text>
<rect x="236.1" y="739.2" width="40.7" height="17.6" fill="#f58874"/>
<text stroke="#f58874" stroke-width="0.3" x="240.61" y="752.8800000000001" font-size="12.8" fill="#2e1c1c" font-weight="normal" textLength="32.19" lengthAdjust="spacingAndGlyphs">36.69</text>
<rect x="278.7" y="739.2" width="40.1" height="17.6" fill="#f79885"/>
<text stroke="#f79885" stroke-width="0.3" x="282.89" y="752.8800000000001" font-size="12.8" fill="#2e1c1c" font-weight="normal" textLength="32.19" lengthAdjust="spacingAndGlyphs">36.38</text>
<rect x="320.8" y="739.2" width="40.0" height="17.6" fill="#c7caca"/>
<text stroke="#c7caca" stroke-width="0.3" x="324.91" y="752.8800000000001" font-size="12.8" fill="#1c2124" font-weight="normal" textLength="32.19" lengthAdjust="spacingAndGlyphs">34.60</text>
<rect x="363.0" y="739.2" width="39.8" height="17.6" fill="#f0735b"/>
<text stroke="#f0735b" stroke-width="0.3" x="367.06" y="752.8800000000001" font-size="12.8" fill="#2e1c1c" font-weight="normal" textLength="32.19" lengthAdjust="spacingAndGlyphs">37.39</text>
<rect x="405.1" y="739.2" width="41.0" height="17.6" fill="#ea5d4c"/>
<text stroke="#ea5d4c" stroke-width="0.3" x="409.73" y="752.8800000000001" font-size="12.8" fill="#fdf0f0" font-weight="normal" textLength="32.19" lengthAdjust="spacingAndGlyphs">37.95</text>
<rect x="448.0" y="739.2" width="40.2" height="17.6" fill="#ebc7c1"/>
<text stroke="#ebc7c1" stroke-width="0.3" x="452.24" y="752.8800000000001" font-size="12.8" fill="#2e1c1c" font-weight="normal" textLength="32.19" lengthAdjust="spacingAndGlyphs">35.43</text>
<text x="119.10" y="752.8800000000001" font-size="12.7" fill="#3a4446" font-weight="normal" textLength="26.37" lengthAdjust="spacingAndGlyphs">9AM</text>
</g>
<text stroke="#3a4446" stroke-width="0.45" x="203.74" y="552.9" font-size="12.4" fill="#3a4446" font-weight="normal" textLength="22.06" lengthAdjust="spacingAndGlyphs">Sun</text>
<text stroke="#3a4446" stroke-width="0.45" x="244.28" y="552.9" font-size="12.4" fill="#3a4446" font-weight="normal" textLength="24.12" lengthAdjust="spacingAndGlyphs">Mon</text>
<text stroke="#3a4446" stroke-width="0.45" x="288.20" y="552.9" font-size="12.4" fill="#3a4446" font-weight="normal" textLength="21.37" lengthAdjust="spacingAndGlyphs">Tue</text>
<text stroke="#3a4446" stroke-width="0.45" x="328.42" y="552.9" font-size="12.4" fill="#3a4446" font-weight="normal" textLength="25.50" lengthAdjust="spacingAndGlyphs">Wed</text>
<text stroke="#3a4446" stroke-width="0.45" x="372.49" y="552.9" font-size="12.4" fill="#3a4446" font-weight="normal" textLength="21.37" lengthAdjust="spacingAndGlyphs">Thu</text>
<text stroke="#3a4446" stroke-width="0.45" x="418.28" y="552.9" font-size="12.4" fill="#3a4446" font-weight="normal" textLength="14.46" lengthAdjust="spacingAndGlyphs">Fri</text>
<text stroke="#3a4446" stroke-width="0.45" x="458.56" y="552.9" font-size="12.4" fill="#3a4446" font-weight="normal" textLength="18.61" lengthAdjust="spacingAndGlyphs">Sat</text>
<line x1="113.4" y1="755.8" x2="490" y2="755.8" stroke="#b7c1c0" stroke-width="1"/>
<rect x="492" y="558.5" width="14.7" height="197" fill="#ffffff" stroke="#b8bcbc" stroke-width="1"/>
<rect x="492.5" y="559" width="13.7" height="79.8" fill="#ececec"/>
<line x1="492" y1="638.8" x2="506.7" y2="638.8" stroke="#c8cccc" stroke-width="1"/>
</svg>
</body></html>
